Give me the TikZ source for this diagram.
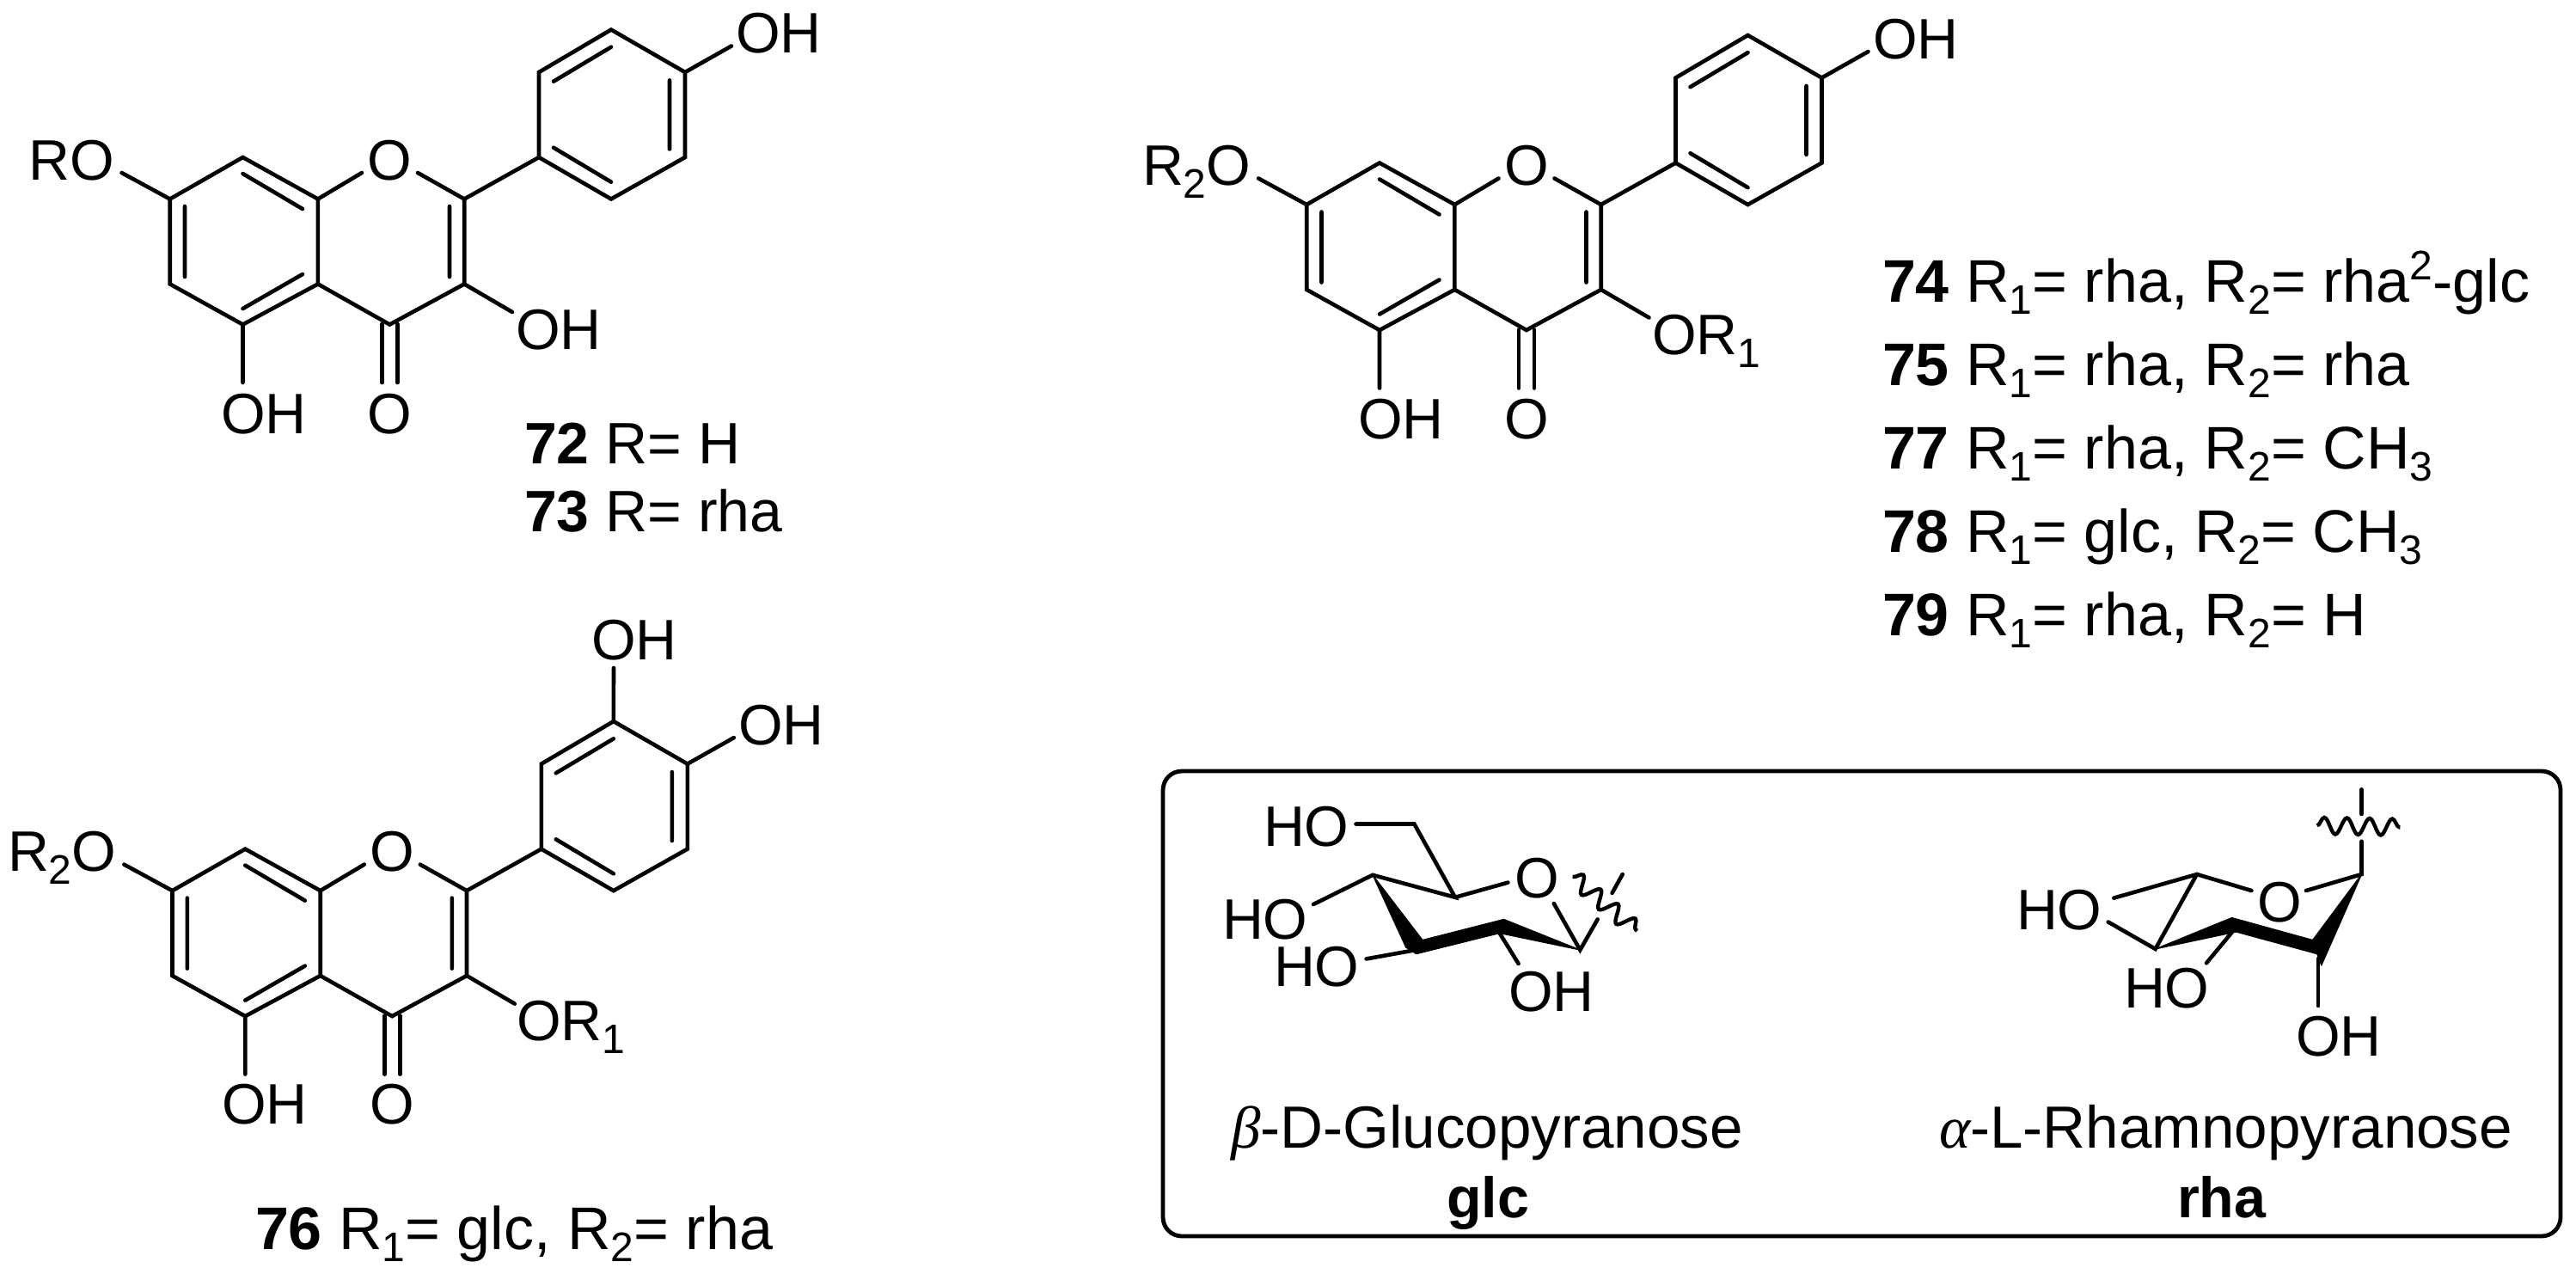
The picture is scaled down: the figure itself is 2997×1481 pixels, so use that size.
\documentclass[tikz,border=0pt]{standalone}
\usepackage{fontspec}
\setmainfont{Liberation Sans}
\newfontfamily\greekit[ItalicFont=Liberation Serif Italic]{Liberation Serif}
\usetikzlibrary{decorations.pathmorphing}
\newcommand\mainsz{\fontsize{16.6}{20}\selectfont}
\newcommand\subs[1]{\raisebox{-3.9pt}{\fontsize{12}{13}\selectfont #1}}
\newcommand\lsubs[1]{\raisebox{-3.7pt}{\fontsize{12}{13}\selectfont #1}}
\newcommand\sups[1]{\raisebox{6.5pt}{\fontsize{12}{13}\selectfont #1}}
\tikzset{
  bond/.style={line width=1.15pt,line cap=round,line join=miter,black},
  lab/.style={inner sep=0pt,outer sep=0pt,anchor=base west,font=\mainsz,black},
  labc/.style={inner sep=0pt,outer sep=0pt,anchor=base,font=\mainsz,black},
  listlab/.style={lab,font=\fontsize{17.5}{20}\selectfont},
  shortlab/.style={lab,font=\fontsize{17}{20}\selectfont},
  sugarname/.style={lab,font=\fontsize{17.3}{20}\selectfont},
  wavy/.style={line width=1.1pt,decorate,decoration={snake,segment length=6.6pt,amplitude=2.4pt}},
  solid black/.style={fill=black,draw=black,line width=.3pt,line join=round}
}
\newcommand\flavskel[3]{%
\begin{scope}[shift={(#2,#3)}]
\coordinate (#1c7) at (197.7,231.5);
\coordinate (#1c8) at (282.5,183);
\coordinate (#1c8a) at (369.9,231.5);
\coordinate (#1ol) at (421,201);
\coordinate (#1or) at (486,201);
\coordinate (#1c2) at (540.2,231.5);
\coordinate (#1c3) at (540.2,330.4);
\coordinate (#1c4) at (453.4,377.5);
\coordinate (#1c4a) at (369.9,330.4);
\coordinate (#1c5) at (282.5,377.5);
\coordinate (#1c6) at (197.7,330.4);
\coordinate (#1p1) at (627,183);
\coordinate (#1p2) at (627,84);
\coordinate (#1p3) at (711,34.5);
\coordinate (#1p4) at (797,84);
\coordinate (#1p5) at (797,183);
\coordinate (#1p6) at (711,231.5);
\coordinate (#1o7) at (141.6,201);
\coordinate (#1o5) at (282.5,445);
\coordinate (#1o3) at (596,363);
\coordinate (#1o4p) at (851,53.5);
\draw[bond] (#1c7)--(#1c8)--(#1c8a)--(#1c4a)--(#1c5)--(#1c6)--cycle;
\draw[bond] (#1c8a)--(#1ol) (#1or)--(#1c2)--(#1c3)--(#1c4)--(#1c4a);
\draw[bond] (#1c2)--(#1p1);
\draw[bond] (#1p1)--(#1p2)--(#1p3)--(#1p4)--(#1p5)--(#1p6)--cycle;
\draw[bond] (#1c7)--(#1o7) (#1c5)--(#1o5) (#1c3)--(#1o3) (#1p4)--(#1o4p);
\draw[bond] (444.5,377)--(444.5,445) (462.4,377)--(462.4,445);
\draw[bond] (215,240)--(215,322) (282.5,202)--(352,243) (282.5,359)--(352,319);
\draw[bond] (523,240)--(523,322) (644,94.7)--(711,54.7) (779,93.4)--(779,173.4) (644,171.7)--(711,211.7);
\end{scope}}
\begin{document}
\begin{tikzpicture}[x=0.25pt,y=-0.25pt]
\useasboundingbox (0,0) rectangle (2997,1481);
% Structure 72/73
\flavskel{a}{0}{0}
\node[lab] (aRO) at (34,209) {RO};
\node[labc] (aO) at (453.4,209) {O};
\node[lab] (aOH4) at (856,61) {OH};
\node[lab] (aOH3) at (600,406) {OH};
\node[lab] (aOH5) at (257,504) {OH};
\node[labc] (aOc) at (453.4,504) {O};
\node[shortlab] (t72) at (610,539) {\textbf{72} R= H};
\node[shortlab] (t73) at (610,618) {\textbf{73} R= rha};
% Structure 74-79
\flavskel{b}{1322.5}{6.5}
\node[lab] (bRO) at (1329,215) {R\subs{2}O};
\node[labc] (bO) at (1775.9,215) {O};
\node[lab] (bOH4) at (2179,68) {OH};
\node[lab] (bOR) at (1922,412) {OR\subs{1}};
\node[lab] (bOH5) at (1580,510) {OH};
\node[labc] (bOc) at (1775.9,510) {O};
\node[listlab] (t74) at (2190,351) {\textbf{74} R\lsubs{1}= rha, R\lsubs{2}= rha\sups{2}-glc};
\node[listlab] (t75) at (2190,448) {\textbf{75} R\lsubs{1}= rha, R\lsubs{2}= rha};
\node[listlab] (t77) at (2190,545) {\textbf{77} R\lsubs{1}= rha, R\lsubs{2}= CH\lsubs{3}};
\node[listlab] (t78) at (2190,642) {\textbf{78} R\lsubs{1}= glc, R\lsubs{2}= CH\lsubs{3}};
\node[listlab] (t79) at (2190,739) {\textbf{79} R\lsubs{1}= rha, R\lsubs{2}= H};
% Structure 76
\flavskel{c}{2.8}{804.6}
\coordinate (co3p) at (714,777);
\draw[bond] (cp3)--(co3p);
\node[lab] (cRO) at (9,1013) {R\subs{2}O};
\node[labc] (cO) at (456,1013) {O};
\node[lab] (cOH3) at (688,767) {OH};
\node[lab] (cOH4) at (859,866) {OH};
\node[lab] (cOR) at (601,1210) {OR\subs{1}};
\node[lab] (cOH5) at (258,1307) {OH};
\node[labc] (cOc) at (456,1307) {O};
\node[listlab] (t76) at (297,1453) {\textbf{76} R\lsubs{1}= glc, R\lsubs{2}= rha};
% Box
\draw[line width=1.2pt,rounded corners=5.5pt] (1353,897) rectangle (2979,1438);
% Glucose
\coordinate (g5) at (1692.9,1043.8);
\coordinate (g4) at (1597,1017.8);
\coordinate (g1) at (1838.3,1105);
\coordinate (gch) at (1645.4,958.5);
\draw[bond] (1577.5,958.5)--(gch)--(g5)--(g4)--(1528,1052);
\draw[bond] (g5)--(1754.4,1026.6);
\draw[bond] (1807.8,1051)--(g1)--(1858.7,1069.4);
\draw[bond] (1875.6,1038.8)--(1887.7,1017);
\draw[solid black] (g4)--(1655,1093.5)--(1749.6,1069.4)--(g1)--(1744.7,1085.5)--(1647.8,1109.6)--(1635.7,1102)--cycle;
\draw[bond] (1589.6,1115.4)--(1643,1105.8);
\draw[bond] (1744.7,1085.5)--(1766.6,1121);
\draw[wavy] (1829.6,1019.7)--(1904.7,1082.8);
\node[lab] (gHO1) at (1470,984) {HO};
\node[lab] (gHO2) at (1422,1092) {HO};
\node[lab] (gHO3) at (1482,1147) {HO};
\node[labc] (gO) at (1788,1044.6) {O};
\node[lab] (gOH) at (1755,1176) {OH};
\node[sugarname] (gname) at (1432,1335) {{\greekit\itshape β}-D-Glucopyranose};
\node[labc] (gglc) at (1731,1416) {\textbf{glc}};
% Rhamnose
\coordinate (r1) at (2747.5,1017);
\coordinate (r5) at (2555.9,1017);
\coordinate (r4) at (2507.6,1103.9);
\draw[bond] (2747.5,918.3)--(2747.5,947);
\draw[bond] (2747.5,978.7)--(r1)--(2683,1036);
\draw[bond] (2619.4,1036)--(r5)--(2459.3,1044.6);
\draw[bond] (r5)--(r4)--(2452.7,1072.5);
\draw[solid black] (r4)--(2596.5,1067.5)--(2690.6,1093.5)--(r1)--(2700.8,1123)--(2695.7,1109.6)--(2601.6,1084)--cycle;
\draw[bond] (2596.5,1084.7)--(2567,1120.3);
\draw[bond] (2697,1115)--(2697,1170);
\draw[wavy] (2695.7,960.4)--(2792.3,962.3);
\node[lab] (rHO1) at (2346,1081) {HO};
\node[labc] (rO) at (2652,1072) {O};
\node[lab] (rHO2) at (2471,1172) {HO};
\node[lab] (rOH) at (2671,1228) {OH};
\node[sugarname] (rname) at (2256,1335) {{\greekit\itshape α}-L-Rhamnopyranose};
\node[labc] (rrha) at (2585,1416) {\textbf{rha}};
\end{tikzpicture}
\end{document}
